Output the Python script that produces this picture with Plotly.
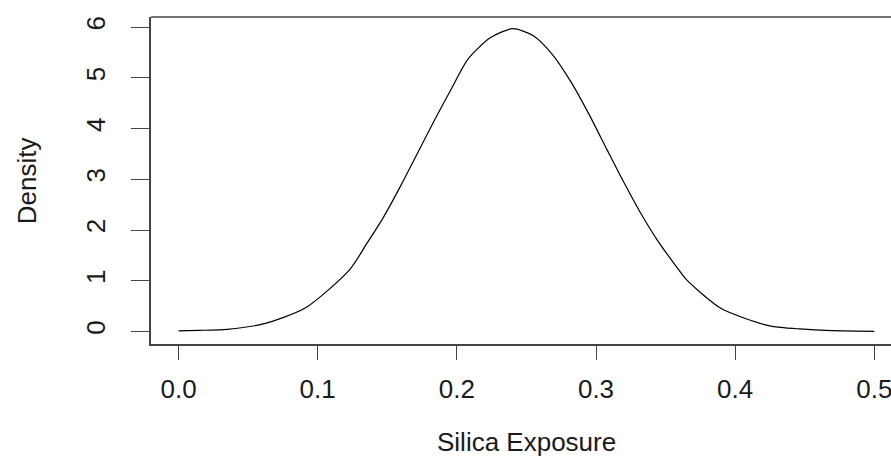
import plotly.graph_objects as go

# Density curve (silica exposure vs density)
silica_x = [0.000, 0.014, 0.035, 0.061, 0.091, 0.123, 0.135, 0.147, 0.160, 0.172,
            0.184, 0.196, 0.208, 0.224, 0.240, 0.255, 0.269, 0.282, 0.295, 0.308,
            0.320, 0.333, 0.345, 0.358, 0.365, 0.390, 0.423, 0.436, 0.446, 0.465, 0.500]
density_y = [0.01, 0.02, 0.04, 0.15, 0.46, 1.22, 1.72, 2.24, 2.89, 3.53,
             4.17, 4.78, 5.37, 5.79, 5.97, 5.83, 5.45, 4.92, 4.28, 3.58,
             2.94, 2.29, 1.76, 1.27, 1.02, 0.45, 0.12, 0.07, 0.05, 0.02, 0.00]

x_ticks = [0.0, 0.1, 0.2, 0.3, 0.4, 0.5]
x_tick_labels = ["0.0", "0.1", "0.2", "0.3", "0.4", "0.5"]
y_ticks = [0, 1, 2, 3, 4, 5, 6]
y_tick_labels = ["0", "1", "2", "3", "4", "5", "6"]

FONT = "Liberation Sans, Arial, sans-serif"
TXT = "#1a1a1a"
AX = "#444444"
FS = 26

fig = go.Figure()
fig.add_trace(go.Scatter(x=silica_x, y=density_y, mode="lines",
                         line=dict(color="black", width=1.2, shape="spline", smoothing=0.7),
                         hoverinfo="skip"))

fig.update_layout(
    width=891, height=457,
    margin=dict(l=151, r=0, t=17, b=113),
    paper_bgcolor="white", plot_bgcolor="white",
    showlegend=False,
    font=dict(family=FONT, size=FS, color=TXT),
    xaxis=dict(range=[-0.0198, 0.512], tickvals=x_ticks, ticktext=x_tick_labels,
               showgrid=False, zeroline=False, showline=True, linecolor=AX, linewidth=1.6,
               ticks="outside", ticklen=14, tickwidth=1.4, tickcolor=AX,
               ticklabelstandoff=7, ticklabeloverflow="allow",
               tickfont=dict(family=FONT, size=FS, color=TXT)),
    yaxis=dict(range=[-0.248, 6.2], tickvals=y_ticks, ticktext=y_tick_labels,
               showgrid=False, zeroline=False, showline=True, linecolor=AX, linewidth=1.6,
               ticks="outside", ticklen=18, tickwidth=1.4, tickcolor=AX,
               tickangle=-90, ticklabelstandoff=16,
               tickfont=dict(family=FONT, size=FS, color=TXT)),
    shapes=[dict(type="line", xref="paper", yref="paper", x0=0, x1=1, y0=1, y1=1,
                 line=dict(color=AX, width=1.6))],
    annotations=[
        dict(text="Density", xref="paper", yref="paper", x=-0.168, y=0.5,
             xanchor="center", yanchor="middle", textangle=-90, showarrow=False,
             font=dict(family=FONT, size=FS, color=TXT)),
        dict(text="Silica Exposure", xref="paper", yref="paper", x=0.507, y=-0.301,
             xanchor="center", yanchor="middle", showarrow=False,
             font=dict(family=FONT, size=FS, color=TXT)),
    ],
)

fig.write_html("out.html")
